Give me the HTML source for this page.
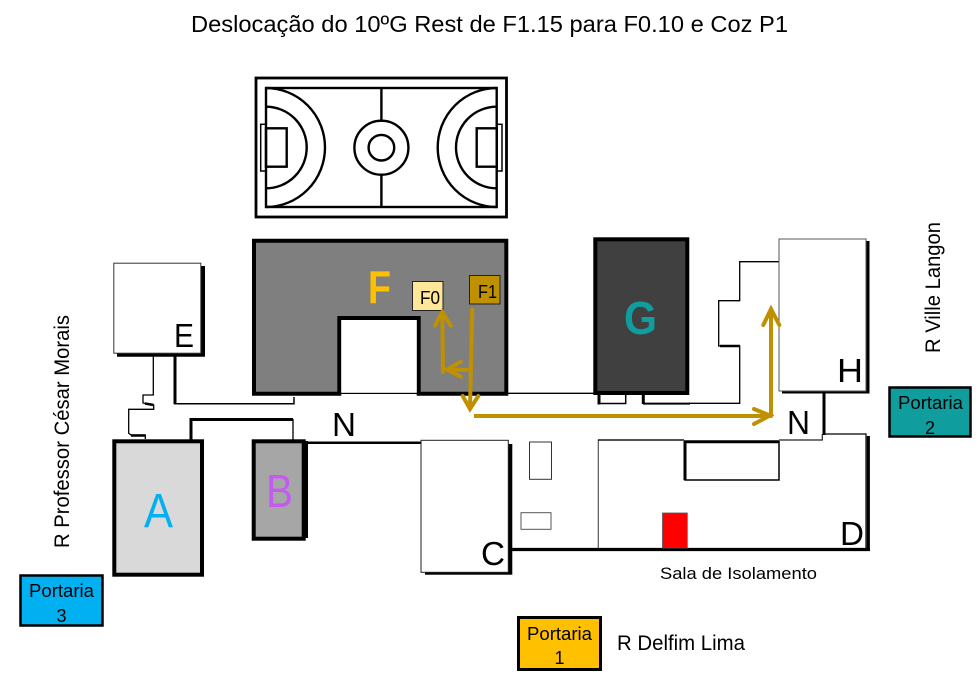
<!DOCTYPE html>
<html><head><meta charset="utf-8"><style>
html,body{margin:0;padding:0;background:#fff}
svg{display:block}
text{font-family:"Liberation Sans",sans-serif;fill:#000}
</style></head><body>
<svg width="980" height="680" viewBox="0 0 980 680" xmlns="http://www.w3.org/2000/svg">
<rect width="980" height="680" fill="#fff"/>
<text x="191" y="32" font-size="23" textLength="597" lengthAdjust="spacingAndGlyphs">Deslocação do 10ºG Rest de F1.15 para F0.10 e Coz P1</text>
<g fill="none" stroke="#000" stroke-width="2.400">
<rect x="256" y="78" width="250.500" height="139" stroke-width="2.800"/>
<rect x="266" y="88" width="230.700" height="119"/>
<path d="M381.400 88V120M381.400 175V207"/>
<circle cx="381.400" cy="147.700" r="27"/>
<circle cx="381.400" cy="147.700" r="12.800"/>
<path d="M266 88A59 59.500 0 0 1 266 207M266 106.700A40.700 40.800 0 0 1 266 188.300"/>
<path d="M496.700 88A59 59.500 0 0 0 496.700 207M496.700 106.700A40.700 40.800 0 0 0 496.700 188.300"/>
<rect x="266" y="128.300" width="20.700" height="38.400"/>
<rect x="476.700" y="128.300" width="20" height="38.400"/>
<rect x="260.700" y="124.300" width="5.300" height="46.700" stroke-width="1.500"/>
<rect x="496.700" y="124.300" width="5.300" height="46.700" stroke-width="1.500"/>
</g>
<g fill="none" stroke="#000">
<path d="M153.300 356V395H143V403L153.700 405V409.300H128.700V433.300L131 435H145.300V439" stroke-width="1.300"/>
<path d="M145 403.500L153.700 405M131 435.500H145.300" stroke-width="2.500"/>
<path d="M175 355V404" stroke-width="3"/>
<path d="M174 403.700H294V397" stroke-width="1.500"/>
<path d="M191 441V419.500H293" stroke-width="3"/>
<path d="M293 419V441" stroke-width="1.300"/>
<path d="M306 442.700H421" stroke-width="2.500"/>
<path d="M336 393.300H594" stroke-width="1.300"/>
</g>
<path d="M117 266H205V356.700H117Z" fill="#000"/>
<rect x="113.800" y="263.200" width="87" height="90" fill="#fff" stroke="#333" stroke-width="1"/>
<rect x="114.300" y="441.300" width="87.700" height="133.400" fill="#d9d9d9" stroke="#000" stroke-width="4"/>
<rect x="253.700" y="441.300" width="50" height="97.400" fill="#a6a6a6" stroke="#000" stroke-width="4"/>
<rect x="303.500" y="441" width="4.500" height="97" fill="#000"/>
<path d="M254 240.700H506.300V393.700H418.700V318H339.300V393.700H254Z" fill="#7f7f7f" stroke="#000" stroke-width="4"/>
<path d="M341.300 320H416.700V392.700H341.300Z" fill="#fff"/>
<rect x="595.300" y="239.300" width="92" height="153.700" fill="#404040" stroke="#000" stroke-width="4"/>
<g fill="none" stroke="#000">
<path d="M599 395V403.500H625.700V395" stroke-width="1.500"/>
<path d="M599 395V404.500" stroke-width="3"/>
<path d="M643.300 394V404" stroke-width="3"/>
<path d="M643 403.600H690" stroke-width="2"/>
<path d="M689 403.300H739.700V346H718.700V300.700H739.700V261.700H779" stroke-width="1.300"/>
<path d="M720 346H740" stroke-width="2.500"/>
</g>
<path d="M782 241H869.500V393.500H782Z" fill="#000"/>
<rect x="779" y="239" width="87" height="152" fill="#fff" stroke="#555" stroke-width="1"/>
<path d="M824 392V435" stroke="#000" stroke-width="3" fill="none"/>
<path d="M511 549.500H870M868.300 436V551" stroke="#000" stroke-width="3.200" fill="none"/>
<path d="M824 434H866V548" stroke="#000" stroke-width="1.200" fill="none"/>
<path d="M598.300 548V440H684" stroke="#555" stroke-width="1.200" fill="none"/>
<path d="M598 440H684" stroke="#000" stroke-width="1.200" fill="none"/>
<path d="M779 440H822.300V434" stroke="#222" stroke-width="1.200" fill="none"/>
<rect x="685" y="441.700" width="94" height="38.300" fill="#fff" stroke="#000" stroke-width="1.500"/>
<path d="M684 441.700H779M685 441V480" stroke="#000" stroke-width="3" fill="none"/>
<rect x="425" y="444" width="87.300" height="130.700" fill="#000"/>
<rect x="421" y="440.300" width="87.300" height="132" fill="#fff" stroke="#222" stroke-width="1"/>
<rect x="529.500" y="442" width="22" height="37.300" fill="#fff" stroke="#333" stroke-width="1"/>
<rect x="521" y="512.700" width="30" height="16.600" fill="#fff" stroke="#555" stroke-width="1"/>
<rect x="662.500" y="513" width="24.800" height="35" fill="#ff0000" stroke="#555" stroke-width="0.800"/>
<rect x="412.500" y="281.500" width="30.500" height="29" fill="#ffe699" stroke="#222" stroke-width="1"/>
<rect x="469.500" y="275.500" width="30.500" height="28.500" fill="#bf9000" stroke="#222" stroke-width="1"/>
<text x="420" y="304" font-size="18" textLength="20" lengthAdjust="spacingAndGlyphs">F0</text>
<text x="478" y="298" font-size="18" textLength="19" lengthAdjust="spacingAndGlyphs">F1</text>
<g fill="none" stroke="#bf9000" stroke-width="4" stroke-linecap="round">
<path d="M472.300 308L470 408" stroke-linecap="butt"/>
<path d="M462.700 396L470 409L478.300 396"/>
<path d="M471 369.700H448"/>
<path d="M460.700 361.700L447 369.500L460.700 376.700"/>
<path d="M443 372L442.300 313"/>
<path d="M435 325.700L442.300 312L450.700 325.700"/>
<path d="M474 416H769" stroke-linecap="butt"/>
<path d="M754 409L770 415.500L754 424"/>
<path d="M771 416V310"/>
<path d="M763.300 325L771 309L779.300 325"/>
</g>
<text x="368" y="303" font-size="46" font-weight="bold" textLength="23" lengthAdjust="spacingAndGlyphs" style="fill:#ffc000">F</text>
<text x="624" y="334" font-size="46" font-weight="bold" textLength="33" lengthAdjust="spacingAndGlyphs" style="fill:#0f9d9d">G</text>
<text x="144" y="527" font-size="48" textLength="29" lengthAdjust="spacingAndGlyphs" style="fill:#00b0f0">A</text>
<text x="266" y="507" font-size="46" textLength="27" lengthAdjust="spacingAndGlyphs" style="fill:#c55af0">B</text>
<text x="174" y="347" font-size="33" textLength="20" lengthAdjust="spacingAndGlyphs">E</text>
<text x="332" y="436" font-size="33" textLength="24" lengthAdjust="spacingAndGlyphs">N</text>
<text x="787" y="434" font-size="33" textLength="23" lengthAdjust="spacingAndGlyphs">N</text>
<text x="837" y="382" font-size="33" textLength="26" lengthAdjust="spacingAndGlyphs">H</text>
<text x="481" y="565" font-size="33" textLength="24" lengthAdjust="spacingAndGlyphs">C</text>
<text x="840" y="545" font-size="33" textLength="24" lengthAdjust="spacingAndGlyphs">D</text>
<text x="660" y="579" font-size="17" textLength="157" lengthAdjust="spacingAndGlyphs">Sala de Isolamento</text>
<text x="617" y="650" font-size="21" textLength="128" lengthAdjust="spacingAndGlyphs">R Delfim Lima</text>
<text transform="translate(69 548) rotate(-90)" font-size="21" textLength="233" lengthAdjust="spacingAndGlyphs">R Professor César Morais</text>
<text transform="translate(940 353) rotate(-90)" font-size="21" textLength="131" lengthAdjust="spacingAndGlyphs">R Ville Langon</text>
<rect x="20.500" y="575.500" width="82" height="50" fill="#00b0f0" stroke="#000" stroke-width="2.500"/>
<text x="29" y="597" font-size="18" textLength="65" lengthAdjust="spacingAndGlyphs">Portaria</text>
<text x="61.500" y="622" font-size="18" text-anchor="middle">3</text>
<rect x="889.500" y="387.500" width="81" height="49" fill="#0f9d9d" stroke="#000" stroke-width="2.500"/>
<text x="898" y="409" font-size="18" textLength="65" lengthAdjust="spacingAndGlyphs">Portaria</text>
<text x="930" y="434" font-size="18" text-anchor="middle">2</text>
<rect x="518.500" y="617.500" width="82" height="52" fill="#ffc000" stroke="#000" stroke-width="3"/>
<text x="527" y="640" font-size="18" textLength="65" lengthAdjust="spacingAndGlyphs">Portaria</text>
<text x="559.500" y="664" font-size="18" text-anchor="middle">1</text>
</svg>
</body></html>
